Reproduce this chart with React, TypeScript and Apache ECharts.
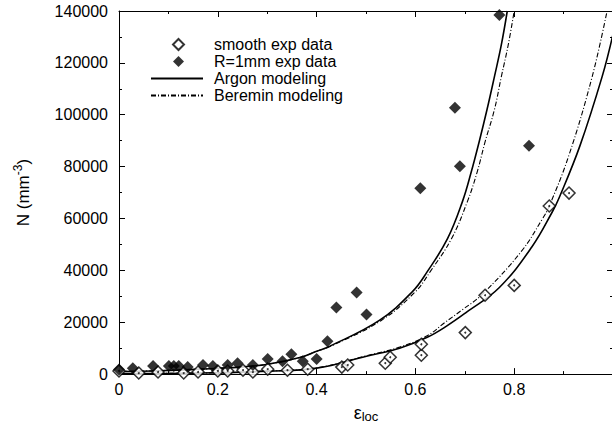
import React, { useEffect, useRef } from "react";
import * as echarts from "echarts";

// smooth specimen experimental data
const smoothX = [0, 0.04, 0.079, 0.131, 0.16, 0.2, 0.22, 0.251, 0.271, 0.301, 0.341, 0.382, 0.451, 0.463, 0.539, 0.549, 0.612, 0.612, 0.701, 0.741, 0.8, 0.871, 0.911];
const smoothY = [1200, 400, 800, 400, 800, 1200, 1200, 1500, 800, 1900, 1500, 1900, 2700, 3500, 4200, 6500, 7300, 11500, 16000, 30400, 34200, 64800, 69800];

// R=1mm experimental data
const notchX = [0, 0.028, 0.069, 0.101, 0.111, 0.121, 0.139, 0.17, 0.19, 0.22, 0.24, 0.271, 0.301, 0.331, 0.349, 0.372, 0.4, 0.422, 0.44, 0.481, 0.501, 0.61, 0.68, 0.69, 0.77, 0.83];
const notchY = [1800, 2300, 3100, 3100, 3100, 3100, 2700, 3500, 3100, 3500, 4200, 3500, 5800, 5000, 7700, 5000, 5800, 12700, 25700, 31500, 23000, 71700, 102700, 80100, 138500, 88000];

// Argon modeling (R=1mm)
const argonNotchX = [0, 0.083, 0.164, 0.244, 0.301, 0.366, 0.4, 0.426, 0.527, 0.594, 0.624, 0.665, 0.695, 0.713, 0.729, 0.745, 0.76, 0.774, 0.786];
const argonNotchY = [1000, 1300, 1900, 2700, 3800, 6400, 8800, 10700, 20700, 31800, 39500, 52200, 66400, 77900, 89500, 102000, 114700, 127000, 140000];

// Beremin modeling (R=1mm)
const bereminNotchX = [0, 0.083, 0.164, 0.244, 0.301, 0.366, 0.4, 0.428, 0.531, 0.6, 0.63, 0.673, 0.705, 0.725, 0.741, 0.76, 0.774, 0.788, 0.8];
const bereminNotchY = [1000, 1300, 1900, 2700, 3800, 6400, 8800, 10700, 20700, 31800, 39500, 52200, 66400, 77900, 89500, 102000, 114700, 127000, 140000];

// Argon modeling (smooth)
const argonSmoothX = [0, 0.164, 0.301, 0.4, 0.501, 0.568, 0.624, 0.663, 0.703, 0.77, 0.836, 0.877, 0.891, 0.933, 0.978, 1.0];
const argonSmoothY = [200, 400, 1150, 2300, 6900, 10000, 14200, 18500, 23800, 33400, 49100, 62500, 68000, 88000, 114700, 131000];

// Beremin modeling (smooth)
const bereminSmoothX = [0, 0.164, 0.301, 0.4, 0.501, 0.568, 0.624, 0.659, 0.695, 0.735, 0.814, 0.857, 0.871, 0.911, 0.958, 0.988];
const bereminSmoothY = [200, 400, 1200, 2400, 7100, 10400, 14800, 19800, 24800, 30700, 47200, 59800, 64800, 84500, 114800, 140000];

const xTicks = { min: 0, max: 1, interval: 0.2 };
const yTicks = { min: 0, max: 140000, interval: 20000 };

const zip = (xs: number[], ys: number[]) => xs.map((x, i) => [x, ys[i]]);

export default function App() {
  const ref = useRef<HTMLDivElement>(null);
  useEffect(() => {
    if (!ref.current) return;
    const chart = echarts.init(ref.current, null, { renderer: "svg" });
    const font = "'Liberation Sans', Arial, Helvetica, sans-serif";
    const black = "#000";
    const dashDot = [5, 2, 1, 2];
    const axisCommon = {
      axisLine: { show: true, onZero: false, lineStyle: { color: black, width: 1 } },
      axisTick: { show: true, inside: true, length: 6, lineStyle: { color: black, width: 1 } },
      minorTick: { show: true, splitNumber: 2, length: 3, lineStyle: { color: black, width: 1 } },
      splitLine: { show: false },
      minorSplitLine: { show: false },
    };
    const hiddenSymbol = { color: "rgba(0,0,0,0)", borderWidth: 0, opacity: 0 };
    const legendText = { fontFamily: font, fontSize: 16, lineHeight: 17, color: black };
    const lineSeries = (name: string, xs: number[], ys: number[], dashed: boolean) => ({
      name,
      type: "line",
      data: zip(xs, ys),
      symbol: "none",
      showSymbol: false,
      smooth: 0.4,
      color: black,
      lineStyle: dashed ? { color: black, width: 1.1, type: dashDot } : { color: black, width: 1.6 },
      z: 2,
    });
    chart.setOption({
      animation: false,
      backgroundColor: "#fff",
      textStyle: { fontFamily: font, color: black },
      grid: { left: 119, top: 11, right: 2, bottom: 52 },
      legend: [
        {
          data: [{ name: "smooth exp data" }, { name: "R=1mm exp data" }],
          orient: "vertical",
          left: 172,
          top: 36,
          padding: 0,
          itemWidth: 11,
          itemHeight: 11,
          itemGap: 0,
          selectedMode: false,
          textStyle: { ...legendText, padding: [0, 0, 0, 25] },
        },
        {
          data: [
            { name: "Argon modeling", itemStyle: hiddenSymbol },
            { name: "Beremin modeling", itemStyle: hiddenSymbol },
          ],
          orient: "vertical",
          left: 150,
          top: 70,
          padding: 0,
          itemWidth: 52,
          itemHeight: 12,
          itemGap: 0,
          selectedMode: false,
          textStyle: { ...legendText, padding: [0, 0, 0, 6] },
        },
      ],
      xAxis: [
        {
          type: "value",
          position: "bottom",
          ...xTicks,
          ...axisCommon,
          axisLabel: {
            fontSize: 16,
            color: black,
            fontFamily: font,
            margin: 7,
            formatter: (v: number) => (v >= 1 ? "" : v === 0 ? "0" : v.toFixed(1)),
          },
          name: "{e|ε}{s|loc}",
          nameLocation: "middle",
          nameGap: 22,
          nameTextStyle: {
            rich: {
              e: { fontSize: 18, fontFamily: font, color: black, lineHeight: 18 },
              s: { fontSize: 13, fontFamily: font, color: black, lineHeight: 13, padding: [8, 0, 0, 0] },
            },
          },
        },
        {
          type: "value",
          position: "top",
          ...xTicks,
          ...axisCommon,
          axisLabel: { show: false },
        },
      ],
      yAxis: [
        {
          type: "value",
          position: "left",
          ...yTicks,
          ...axisCommon,
          axisLabel: { fontSize: 16, color: black, fontFamily: font, margin: 11, formatter: (v: number) => String(v) },
          name: "{a|N (mm}{b|-3}{a|)}",
          nameLocation: "middle",
          nameGap: 87,
          nameRotate: 90,
          nameTextStyle: {
            rich: {
              a: { fontSize: 17, fontFamily: font, color: black, lineHeight: 17 },
              b: { fontSize: 12, fontFamily: font, color: black, lineHeight: 12, padding: [0, 0, 12, 0] },
            },
          },
        },
        {
          type: "value",
          position: "right",
          ...yTicks,
          ...axisCommon,
          axisLabel: { show: false },
        },
      ],
      series: [
        {
          name: "smooth exp data",
          type: "scatter",
          data: zip(smoothX, smoothY),
          symbol: "diamond",
          symbolSize: 12,
          itemStyle: { color: "#fff", borderColor: black, borderWidth: 1.5 },
          z: 3,
        },
        {
          name: "smooth exp data",
          type: "scatter",
          data: zip(smoothX, smoothY),
          symbol: "circle",
          symbolSize: 2,
          itemStyle: { color: black },
          z: 4,
        },
        {
          name: "R=1mm exp data",
          type: "scatter",
          data: zip(notchX, notchY),
          symbol: "diamond",
          symbolSize: 12,
          itemStyle: { color: black },
          z: 3,
        },
        lineSeries("Argon modeling", argonNotchX, argonNotchY, false),
        lineSeries("Argon modeling", argonSmoothX, argonSmoothY, false),
        lineSeries("Beremin modeling", bereminNotchX, bereminNotchY, true),
        lineSeries("Beremin modeling", bereminSmoothX, bereminSmoothY, true),
      ],
    });
    return () => chart.dispose();
  }, []);
  return <div ref={ref} style={{ position: "fixed", left: 0, top: 0, width: 616, height: 428 }} />;
}
